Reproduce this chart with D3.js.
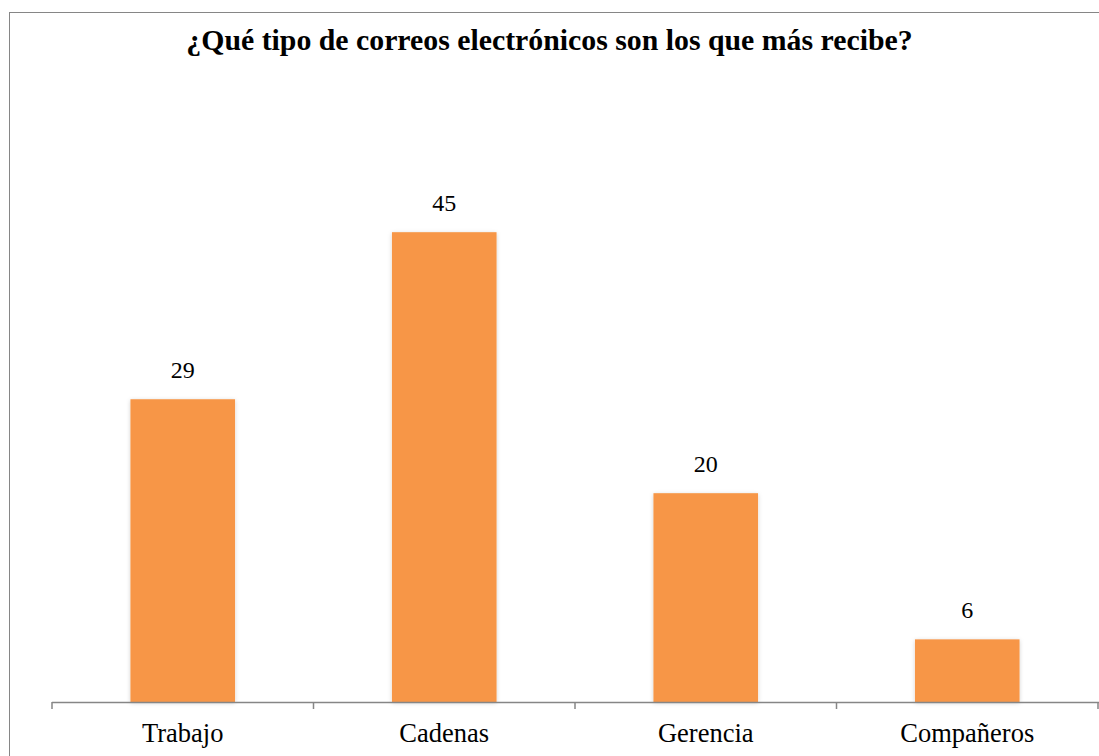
<!DOCTYPE html>
<html>
<head>
<meta charset="utf-8">
<script src="https://cdn.jsdelivr.net/npm/d3@7"></script>
<style>
  body { margin: 0; background: #fff; }
</style>
</head>
<body>
<svg></svg>
<script>
const width = 1099;
const height = 756;
const fontFamily = "'Liberation Serif', 'Times New Roman', Times, 'DejaVu Serif', serif";

const title = '¿Qué tipo de correos electrónicos son los que más recibe?';
const categories = ['Trabajo', 'Cadenas', 'Gerencia', 'Compañeros'];
const values = [29, 45, 20, 6];

const margin = { left: 52, right: 1, top: 180, bottom: 54 };
const axisY = height - margin.bottom;

const svg = d3.select('svg')
  .attr('width', width)
  .attr('height', height)
  .style('display', 'block')
  .attr('font-family', fontFamily);

const defs = svg.append('defs');
const shadow = defs.append('filter')
  .attr('id', 'shadow')
  .attr('x', '-10%').attr('y', '-10%')
  .attr('width', '120%').attr('height', '120%');
shadow.append('feDropShadow')
  .attr('dx', 0).attr('dy', 1)
  .attr('stdDeviation', 2)
  .attr('flood-color', '#000')
  .attr('flood-opacity', 0.18);

// outer frame
svg.append('rect')
  .attr('x', 9.5)
  .attr('y', 12.5)
  .attr('width', width + 20)
  .attr('height', height + 20)
  .attr('fill', 'none')
  .attr('stroke', '#868686')
  .attr('stroke-width', 1);

svg.append('text')
  .attr('x', width / 2)
  .attr('y', 50)
  .attr('text-anchor', 'middle')
  .attr('font-family', fontFamily)
  .attr('font-size', 29.8)
  .attr('font-weight', 'bold')
  .text(title);

const x = d3.scaleBand()
  .domain(categories)
  .range([margin.left, width - margin.right])
  .paddingInner(0.6)
  .paddingOuter(0.3);

const y = d3.scaleLinear()
  .domain([0, 50])
  .range([axisY, margin.top]);

svg.append('g')
  .selectAll('rect')
  .data(values)
  .join('rect')
  .attr('x', (d, i) => x(categories[i]))
  .attr('y', d => y(d))
  .attr('width', x.bandwidth())
  .attr('height', d => axisY - y(d))
  .attr('fill', '#F79646')
  .attr('filter', 'url(#shadow)');

svg.append('g')
  .selectAll('text')
  .data(values)
  .join('text')
  .attr('x', (d, i) => x(categories[i]) + x.bandwidth() / 2)
  .attr('y', d => y(d) - 21)
  .attr('text-anchor', 'middle')
  .attr('font-family', fontFamily)
  .attr('font-size', 24)
  .attr('fill', '#000')
  .text(d => d);

// category axis: line, ticks at band boundaries
const step = x.step();
const tickPos = d3.range(categories.length + 1).map(i => margin.left + i * step);

svg.append('line')
  .attr('x1', margin.left)
  .attr('x2', width)
  .attr('y1', axisY + 0.5)
  .attr('y2', axisY + 0.5)
  .attr('stroke', '#868686')
  .attr('stroke-width', 1.5);

svg.append('g')
  .selectAll('line')
  .data(tickPos)
  .join('line')
  .attr('x1', d => Math.min(d, width - 1))
  .attr('x2', d => Math.min(d, width - 1))
  .attr('y1', axisY)
  .attr('y2', axisY + 7)
  .attr('stroke', '#868686')
  .attr('stroke-width', 1.5);

svg.append('g')
  .selectAll('text')
  .data(categories)
  .join('text')
  .attr('x', d => x(d) + x.bandwidth() / 2)
  .attr('y', axisY + 40)
  .attr('text-anchor', 'middle')
  .attr('font-family', fontFamily)
  .attr('font-size', 26.5)
  .attr('fill', '#000')
  .text(d => d);
</script>
</body>
</html>
